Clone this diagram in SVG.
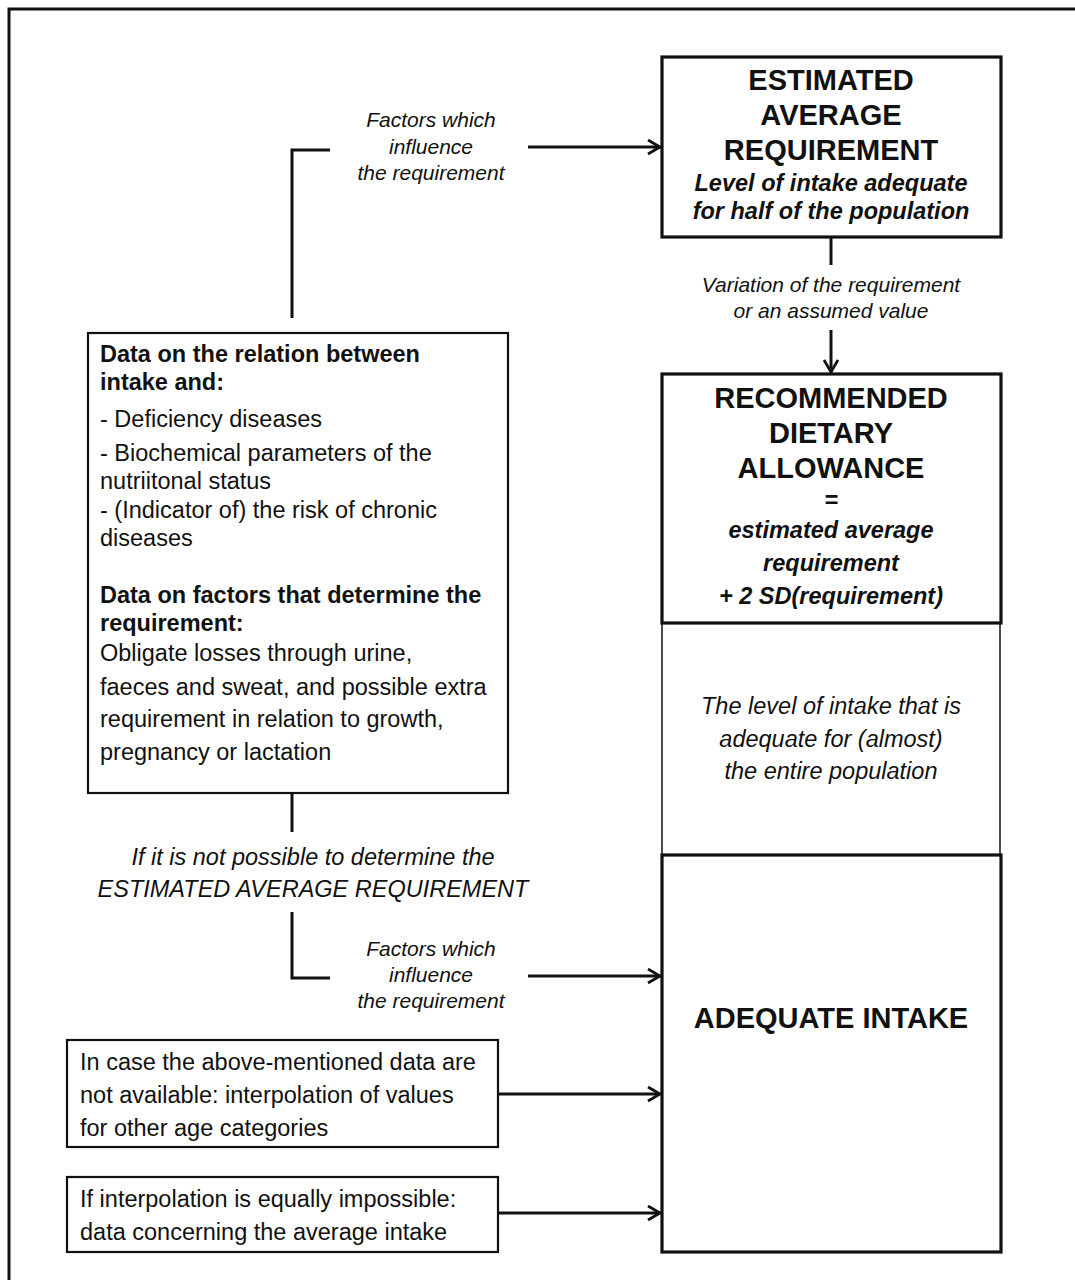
<svg xmlns="http://www.w3.org/2000/svg" width="1075" height="1280" viewBox="0 0 1075 1280">
<style>
text{font-family:"Liberation Sans",Arial,sans-serif;fill:#111}
.t{font-size:29px;font-weight:bold;text-anchor:middle}
.bi{font-size:23.5px;font-weight:bold;font-style:italic;text-anchor:middle}
.i{font-size:23.5px;font-style:italic;text-anchor:middle}
.ci{font-size:21px;font-style:italic;text-anchor:middle}
.b{font-size:23.5px;font-weight:bold}
.r{font-size:23.5px}
.thick{fill:#fff;stroke:#111;stroke-width:3.2}
.thin{fill:#fff;stroke:#111;stroke-width:1.5}
.mid{fill:#fff;stroke:#111;stroke-width:2.2}
.ln{fill:none;stroke:#111;stroke-width:3}
</style>
<defs>
<marker id="arr" markerUnits="userSpaceOnUse" markerWidth="16" markerHeight="18" refX="13" refY="8" orient="auto">
<path d="M1,1 L13,8 L1,15" fill="none" stroke="#111" stroke-width="2.8"/>
</marker>
</defs>
<rect x="0" y="0" width="1075" height="1280" fill="#fff"/>
<rect id="frame" x="9" y="9" width="1100" height="1300" fill="none" stroke="#111" stroke-width="3"/>

<g id="connectors">
<path class="ln" d="M292,318 V150 H330"/>
<path class="ln" d="M528,147 H660" marker-end="url(#arr)"/>
<path class="ln" d="M831,237 V265"/>
<path class="ln" d="M831,330 V372" marker-end="url(#arr)"/>
<path class="ln" d="M292,793 V832"/>
<path class="ln" d="M292,912 V978 H330"/>
<path class="ln" d="M528,976 H660" marker-end="url(#arr)"/>
<path class="ln" d="M498,1094 H660" marker-end="url(#arr)"/>
<path class="ln" d="M498,1213 H660" marker-end="url(#arr)"/>
<text class="ci" x="431" y="127">Factors which</text>
<text class="ci" x="431" y="154">influence</text>
<text class="ci" x="431" y="180">the requirement</text>
<text class="ci" x="831" y="292">Variation of the requirement</text>
<text class="ci" x="831" y="318">or an assumed value</text>
<text class="i" x="313" y="865">If it is not possible to determine the</text>
<text class="i" x="313" y="897">ESTIMATED AVERAGE REQUIREMENT</text>
<text class="ci" x="431" y="956">Factors which</text>
<text class="ci" x="431" y="982">influence</text>
<text class="ci" x="431" y="1008">the requirement</text>
</g>

<g id="ear">
<rect class="thick" x="662" y="57" width="339" height="180"/>
<text class="t" x="831" y="90">ESTIMATED</text>
<text class="t" x="831" y="125">AVERAGE</text>
<text class="t" x="831" y="160">REQUIREMENT</text>
<text class="bi" x="831" y="191">Level of intake adequate</text>
<text class="bi" x="831" y="219">for half of the population</text>
</g>

<g id="level">
<rect class="thin" x="662" y="623" width="338" height="232"/>
<text class="i" x="831" y="714">The level of intake that is</text>
<text class="i" x="831" y="747">adequate for (almost)</text>
<text class="i" x="831" y="779">the entire population</text>
</g>

<g id="rda">
<rect class="thick" x="662" y="374" width="339" height="249"/>
<text class="t" x="831" y="408">RECOMMENDED</text>
<text class="t" x="831" y="443">DIETARY</text>
<text class="t" x="831" y="478">ALLOWANCE</text>
<text class="bi" x="831" y="508" font-style="normal">=</text>
<text class="bi" x="831" y="538">estimated average</text>
<text class="bi" x="831" y="571">requirement</text>
<text class="bi" x="831" y="604">+ 2 SD(requirement)</text>
</g>

<g id="ai">
<rect class="thick" x="662" y="855" width="339" height="397"/>
<text class="t" x="831" y="1028" font-size="28">ADEQUATE INTAKE</text>
</g>

<g id="data">
<rect class="mid" x="88" y="333" width="420" height="460"/>
<text class="b" x="100" y="362">Data on the relation between</text>
<text class="b" x="100" y="390">intake and:</text>
<text class="r" x="100" y="427">- Deficiency diseases</text>
<text class="r" x="100" y="461">- Biochemical parameters of the</text>
<text class="r" x="100" y="489">nutriitonal status</text>
<text class="r" x="100" y="518">- (Indicator of) the risk of chronic</text>
<text class="r" x="100" y="546">diseases</text>
<text class="b" x="100" y="603">Data on factors that determine the</text>
<text class="b" x="100" y="631">requirement:</text>
<text class="r" x="100" y="661">Obligate losses through urine,</text>
<text class="r" x="100" y="695">faeces and sweat, and possible extra</text>
<text class="r" x="100" y="727">requirement in relation to growth,</text>
<text class="r" x="100" y="760">pregnancy or lactation</text>
</g>

<g id="interp">
<rect class="mid" x="67" y="1040" width="431" height="107"/>
<text class="r" x="80" y="1070">In case the above-mentioned data are</text>
<text class="r" x="80" y="1103">not available: interpolation of values</text>
<text class="r" x="80" y="1136">for other age categories</text>
</g>

<g id="avg">
<rect class="mid" x="67" y="1177" width="431" height="75"/>
<text class="r" x="80" y="1207">If interpolation is equally impossible:</text>
<text class="r" x="80" y="1240">data concerning the average intake</text>
</g>
</svg>
